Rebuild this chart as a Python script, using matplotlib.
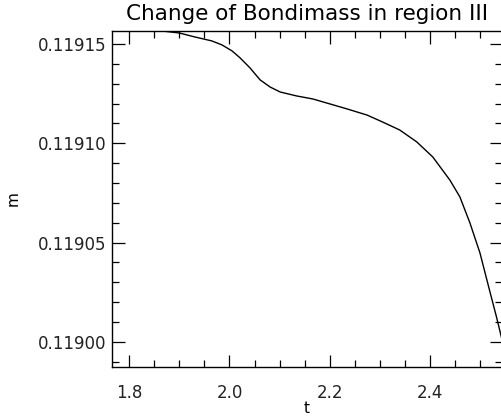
import matplotlib
matplotlib.use('Agg')
import matplotlib.pyplot as plt
from matplotlib.ticker import MultipleLocator, FormatStrFormatter

# values
t = [1.792, 1.822, 1.846, 1.866, 1.900, 1.931, 1.965, 1.985, 2.005, 2.021,
     2.041, 2.061, 2.081, 2.101, 2.134, 2.166, 2.200, 2.234, 2.274, 2.305,
     2.339, 2.373, 2.405, 2.439, 2.459, 2.479, 2.499, 2.518, 2.532, 2.545]
m = [0.1191586, 0.1191576, 0.1191570, 0.1191565, 0.1191555, 0.1191535,
     0.1191515, 0.1191495, 0.1191465, 0.1191430, 0.1191379, 0.1191319,
     0.1191283, 0.1191258, 0.1191238, 0.1191223, 0.1191198, 0.1191173,
     0.1191142, 0.1191107, 0.1191067, 0.1191007, 0.1190931, 0.1190815,
     0.1190730, 0.1190599, 0.1190448, 0.1190261, 0.1190125, 0.1189990]

fig = plt.figure(figsize=(5.02, 4.20), dpi=100)
ax = fig.add_axes([0.2231, 0.1262, 0.777, 0.8])

ax.plot(t, m, color='black', linewidth=1.0)
ax.set_xlim(1.766, 2.543)
ax.set_ylim(0.1189874, 0.1191565)

ax.xaxis.set_major_locator(MultipleLocator(0.2))
ax.xaxis.set_minor_locator(MultipleLocator(0.05))
ax.yaxis.set_major_locator(MultipleLocator(0.00005))
ax.yaxis.set_minor_locator(MultipleLocator(0.00001))
ax.yaxis.set_major_formatter(FormatStrFormatter('%.5f'))
ax.xaxis.set_major_formatter(FormatStrFormatter('%.1f'))

ax.tick_params(which='both', direction='in', top=True, right=True,
               labelsize=12, labelcolor='#222222', width=0.9)
ax.tick_params(axis='x', pad=12)
ax.tick_params(axis='y', pad=4)
ax.tick_params(which='major', length=9)
ax.tick_params(which='minor', length=5)
for s in ax.spines.values():
    s.set_linewidth(1.0)

ax.set_title("Change of Bondimass in region III", fontsize=15.5, pad=8)
ax.set_xlabel("t", fontsize=11)
ax.set_ylabel("m", fontsize=11)
ax.xaxis.set_label_coords(0.5, -0.1)
ax.yaxis.set_label_coords(-0.235, 0.5)

fig.savefig('out.png', dpi=100)
